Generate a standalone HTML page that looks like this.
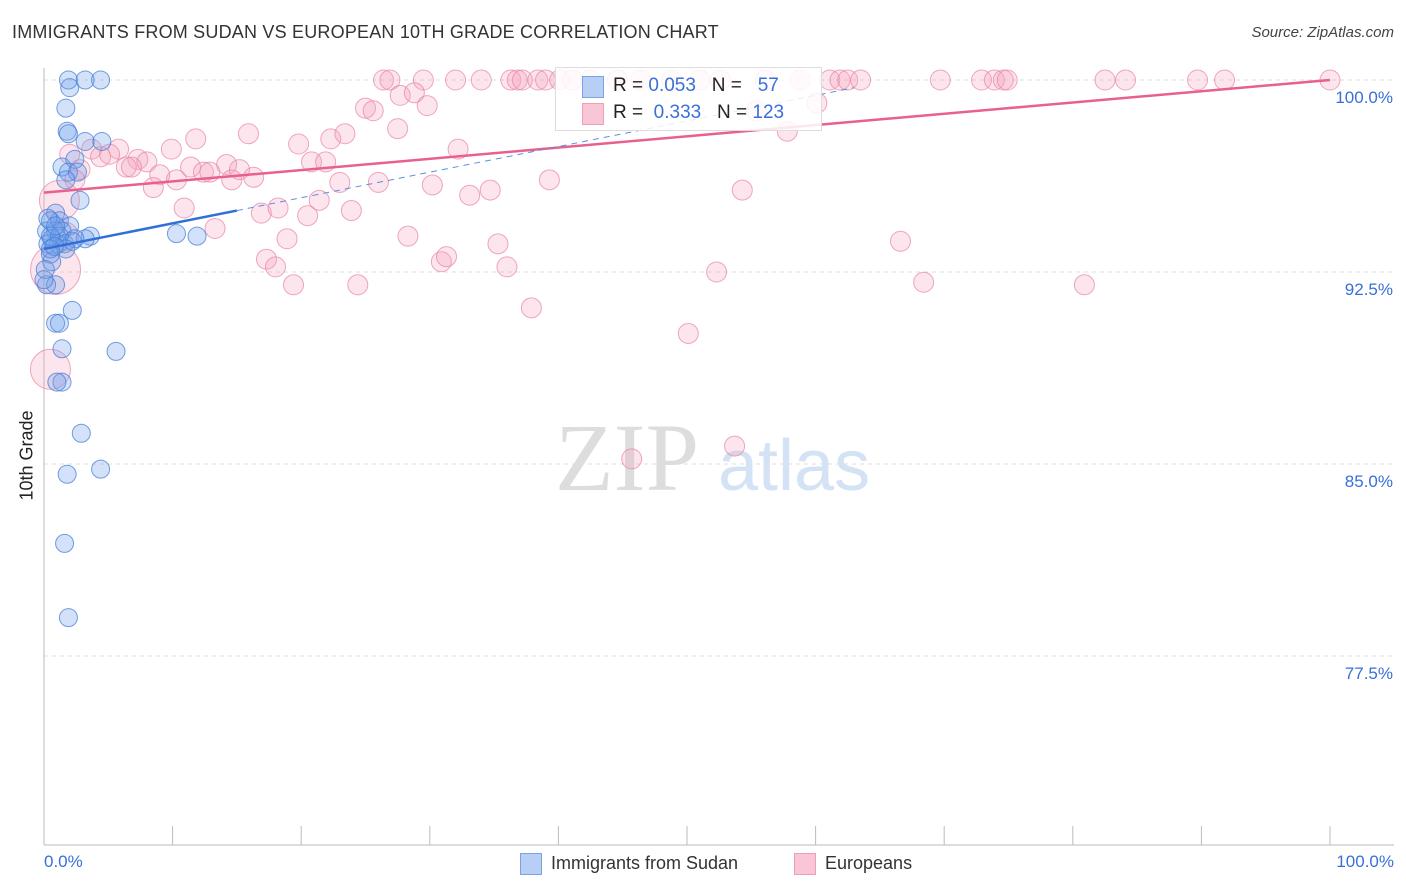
<!DOCTYPE html>
<html><head><meta charset="utf-8"><style>
body{margin:0;background:#fff;font-family:"Liberation Sans",sans-serif;}
#wrap{position:relative;width:1406px;height:892px;overflow:hidden;}
.t{position:absolute;white-space:nowrap;}
</style></head><body>
<div id="wrap">
<div class="t" style="left:12px;top:22px;font-size:18px;color:#333;letter-spacing:0.2px">IMMIGRANTS FROM SUDAN VS EUROPEAN 10TH GRADE CORRELATION CHART</div>
<div class="t" style="right:12px;top:24px;font-size:15px;color:#444;font-style:italic">Source: ZipAtlas.com</div>
<svg id="svg" width="1406" height="892" style="position:absolute;left:0;top:0"></svg>
</div>
<script>
const blueX=[1.9,3.2,4.4,2.0,1.7,1.8,1.9,3.2,4.5,1.4,2.4,1.9,2.6,1.7,2.8,0.9,1.2,0.5,2.0,0.2,0.9,1.4,0.6,0.3,1.1,1.6,2.2,3.6,3.2,10.3,11.9,0.6,0.9,0.2,2.2,0.9,1.2,1.4,5.6,1.4,1.0,2.9,1.8,4.4,1.6,1.9,0.5,0.1,1.2,0.5,2.4,0.3,0.9,1.7,0.5,0.0,0.8];
const blueY=[100,100,100,99.7,98.9,98.0,97.9,97.6,97.6,96.6,96.9,96.4,96.4,96.1,95.3,94.8,94.5,94.5,94.3,94.1,94.1,94.1,93.8,93.6,93.6,93.6,93.7,93.9,93.8,94.0,93.9,92.9,92.0,92.0,91.0,90.5,90.5,89.5,89.4,88.2,88.2,86.2,84.6,84.8,81.9,79.0,93.2,92.6,93.9,93.9,93.8,94.6,94.3,93.4,93.4,92.2,93.5];
const pinkX=[26.4,26.9,29.5,32.0,34.0,36.3,36.8,37.2,38.4,39.0,40.1,41.1,42.5,44.6,46.4,48.8,51.0,52.6,56.1,58.8,61.1,61.9,62.5,63.5,69.7,72.9,73.9,74.6,74.9,82.5,84.1,89.7,91.8,100,
25.0,25.6,27.7,28.8,29.8,27.5,60.1,57.8,55.4,11.8,15.9,19.8,22.3,23.4,32.2,9.9,5.8,3.7,4.4,5.1,7.3,8.0,6.4,6.8,9.0,10.3,8.5,11.4,12.4,12.9,14.2,14.6,15.2,16.3,20.8,21.9,23.0,26.0,30.2,33.1,34.7,39.3,54.3,10.9,16.9,18.2,20.5,21.4,23.9,13.3,18.9,28.3,35.3,17.3,18.0,19.4,24.4,30.9,31.3,36.0,37.9,52.3,66.6,68.4,80.9,50.1,45.7,53.7,2.0,2.8,2.4,0.9,0.5,1.2,1.6];
const pinkY=[100,100,100,100,100,100,100,100,100,100,100,100,100,100,100,100,100,100,100,100,100,100,100,100,100,100,100,100,100,100,100,100,100,100,
98.9,98.8,99.4,99.5,99.0,98.1,99.1,98.0,98.8,97.7,97.9,97.5,97.7,97.9,97.3,97.3,97.3,97.3,97.0,97.1,96.9,96.8,96.6,96.6,96.3,96.1,95.8,96.6,96.4,96.4,96.7,96.1,96.5,96.2,96.8,96.8,96.0,96.0,95.9,95.5,95.7,96.1,95.7,95.0,94.8,95.0,94.7,95.3,94.9,94.2,93.8,93.9,93.6,93.0,92.7,92.0,92.0,92.9,93.1,92.7,91.1,92.5,93.7,92.1,92.0,90.1,85.2,85.7,97.1,96.5,96.1,92.6,88.7,95.3,93.9];
const pinkBig=[25,20,20,14];
const xTicks=[0,10,20,30,40,50,60,70,80,90,100];
const yTicks=[100,92.5,85,77.5];
const yLabels=["100.0%","92.5%","85.0%","77.5%"];
const blueTrend=[93.4,0.1];
const pinkTrend=[95.6,0.044];

const NS="http://www.w3.org/2000/svg";
const svg=document.getElementById('svg');
const X=v=>44+v*12.86;
const Y=v=>80+(100-v)*25.6;
function el(t,a,p){const e=document.createElementNS(NS,t);for(const k in a)e.setAttribute(k,a[k]);(p||svg).appendChild(e);return e;}
// grid
yTicks.forEach((t,i)=>{
 const g=el('line',{x1:44,x2:1394,y1:Y(t),y2:Y(t),stroke:'#ddd','stroke-dasharray':'4,4'});
 
 
 const tx=el('text',{x:1393,y:Y(t)+23,'text-anchor':'end','font-size':17,fill:'#3a6fd8','font-family':'Liberation Sans'});
 tx.textContent=yLabels[i];
 
 
});
const ax=el('line',{x1:44,x2:44,y1:68,y2:845,stroke:'#bbb'});


const bx=el('line',{x1:44,x2:1394,y1:845,y2:845,stroke:'#bbb'});


xTicks.forEach(t=>{
 const l=el('line',{x1:X(t),x2:X(t),y1:826,y2:845,stroke:'#bbb'});
 
 
});
// watermark
const wm=el('text',{x:555,y:490,'font-size':96,fill:'#ddd','font-family':'Liberation Serif'});wm.textContent='ZIP';


const wm2=el('text',{x:718,y:490,'font-size':72,fill:'#d4e2f5','font-family':'Liberation Sans'});wm2.textContent='atlas';


// points
pinkX.forEach((x,i)=>{
 const r=i>=pinkX.length-4?pinkBig[i-(pinkX.length-4)]:10;
 const c=el('circle',{cx:X(x),cy:Y(pinkY[i]),r:r,fill:'rgba(243,160,188,0.28)',stroke:'rgba(232,130,165,0.7)','stroke-width':1});
 
 
});
blueX.forEach((x,i)=>{
 const c=el('circle',{cx:X(x),cy:Y(blueY[i]),r:9,fill:'rgba(110,160,235,0.3)',stroke:'rgba(70,125,215,0.75)','stroke-width':1});
 
 
});
// trends
const pt=el('line',{x1:X(0),y1:Y(pinkTrend[0]),x2:X(100),y2:Y(pinkTrend[0]+pinkTrend[1]*100),stroke:'#e8608c','stroke-width':2.5});


const bt=el('line',{x1:X(0),y1:Y(blueTrend[0]),x2:X(15),y2:Y(blueTrend[0]+blueTrend[1]*15),stroke:'#2f6fd6','stroke-width':2.5});


const bd=el('line',{x1:X(15),y1:Y(blueTrend[0]+blueTrend[1]*15),x2:X(63),y2:Y(blueTrend[0]+blueTrend[1]*63),stroke:'#5b8fe0','stroke-width':1,'stroke-dasharray':'6,5'});


</script>
<div class="t" style="left:555px;top:67px;width:265px;height:62px;border:1px solid #ddd;background:rgba(255,255,255,0.85)"></div>
<div class="t" style="left:582px;top:76px;width:20px;height:20px;background:#b7cff4;border:1px solid #7ba3e3"></div>
<div class="t" style="left:582px;top:103px;width:20px;height:20px;background:#f9c6d6;border:1px solid #eda0ba"></div>
<div class="t" style="left:613px;top:75px;font-size:19px;color:#222">R = <span style="color:#3a6fd8">0.053</span>&nbsp;&nbsp;&nbsp;N = &nbsp;&nbsp;<span style="color:#3a6fd8">57</span></div>
<div class="t" style="left:613px;top:102px;font-size:19px;color:#222">R = &nbsp;<span style="color:#3a6fd8">0.333</span>&nbsp;&nbsp;&nbsp;N = <span style="color:#3a6fd8">123</span></div>
<div class="t" style="left:44px;top:852px;font-size:17px;color:#3a6fd8">0.0%</div>
<div class="t" style="right:12px;top:852px;font-size:17px;color:#3a6fd8">100.0%</div>
<div class="t" style="left:-18px;top:445px;font-size:18px;color:#222;transform:rotate(-90deg)">10th Grade</div>
<div class="t" style="left:520px;top:853px;width:20px;height:20px;background:#b7cff4;border:1px solid #7ba3e3"></div>
<div class="t" style="left:551px;top:853px;font-size:18px;color:#333">Immigrants from Sudan</div>
<div class="t" style="left:794px;top:853px;width:20px;height:20px;background:#f9c6d6;border:1px solid #eda0ba"></div>
<div class="t" style="left:825px;top:853px;font-size:18px;color:#333">Europeans</div>
</body></html>
